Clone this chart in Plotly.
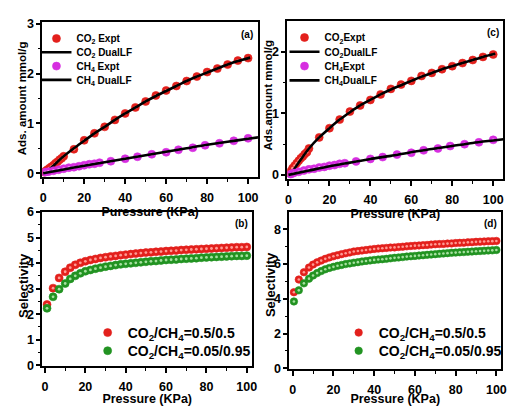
import plotly.graph_objects as go

W, H = 510, 406

# ---------------- data ----------------
# Panel (a)
p_a_co2 = [0.5, 1, 2, 3, 4, 5, 6, 7, 8, 9, 10, 15, 20, 25, 30, 35, 40, 45, 50, 55, 60, 65, 70, 75, 80, 85, 90, 95, 100]
a_co2 = [0.02, 0.04, 0.07, 0.10, 0.13, 0.16, 0.20, 0.23, 0.27, 0.30, 0.34, 0.48, 0.66, 0.80, 0.93, 1.07, 1.20, 1.32, 1.44, 1.56, 1.66, 1.75, 1.85, 1.94, 2.03, 2.10, 2.18, 2.26, 2.31]
p_a_co2_fit = [0, 2.5, 5, 7.5, 10, 15, 20, 25, 30, 35, 40, 45, 50, 55, 60, 65, 70, 75, 80, 85, 90, 95, 101]
a_co2_fit = [0.0, 0.06, 0.15, 0.25, 0.34, 0.50, 0.65, 0.80, 0.93, 1.07, 1.20, 1.32, 1.44, 1.55, 1.65, 1.75, 1.85, 1.94, 2.02, 2.10, 2.18, 2.25, 2.32]
p_a_ch4 = [1, 2.5, 5, 7.5, 10, 12.5, 15, 17.5, 20, 22.5, 25, 27.5, 33, 40, 46, 53, 60, 66, 73, 79, 86, 93, 100]
a_ch4 = [0.02, 0.03, 0.05, 0.07, 0.09, 0.11, 0.12, 0.14, 0.16, 0.18, 0.19, 0.21, 0.24, 0.29, 0.33, 0.38, 0.42, 0.47, 0.51, 0.56, 0.60, 0.65, 0.70]
p_a_ch4_fit = [0, 10, 20, 30, 40, 50, 60, 70, 80, 90, 100, 105]
a_ch4_fit = [0.0, 0.075, 0.15, 0.22, 0.29, 0.36, 0.43, 0.50, 0.57, 0.63, 0.69, 0.72]

# Panel (c)
p_c_co2 = [0.5, 1, 2, 3, 4, 5, 6, 7, 8, 9, 10, 15, 20, 25, 30, 35, 40, 45, 50, 55, 60, 65, 70, 75, 80, 85, 90, 95, 100]
c_co2 = [0.03, 0.06, 0.11, 0.15, 0.19, 0.23, 0.27, 0.30, 0.34, 0.37, 0.43, 0.61, 0.76, 0.90, 1.03, 1.13, 1.22, 1.31, 1.40, 1.47, 1.53, 1.61, 1.66, 1.72, 1.77, 1.82, 1.87, 1.92, 1.96]
p_c_co2_fit = [1, 2.5, 5, 7.5, 10, 15, 20, 25, 30, 35, 40, 45, 50, 55, 60, 65, 70, 75, 80, 85, 90, 95, 101]
c_co2_fit = [0.0, 0.08, 0.20, 0.32, 0.43, 0.61, 0.76, 0.90, 1.02, 1.13, 1.22, 1.31, 1.39, 1.46, 1.53, 1.60, 1.66, 1.72, 1.77, 1.82, 1.87, 1.92, 1.97]
p_c_ch4 = [1, 2.5, 5, 7.5, 10, 12.5, 15, 17.5, 20, 22.5, 25, 27.5, 33, 40, 46, 53, 60, 66, 73, 79, 86, 93, 100]
c_ch4 = [0.01, 0.03, 0.05, 0.07, 0.09, 0.10, 0.12, 0.13, 0.15, 0.16, 0.18, 0.19, 0.22, 0.26, 0.29, 0.33, 0.36, 0.40, 0.43, 0.47, 0.50, 0.53, 0.57]
p_c_ch4_fit = [0, 10, 20, 30, 40, 50, 60, 70, 80, 90, 100, 105]
c_ch4_fit = [0.0, 0.07, 0.14, 0.20, 0.26, 0.31, 0.37, 0.42, 0.47, 0.52, 0.56, 0.58]

# Panel (b)
p_b = [1, 4, 7, 10, 12.5, 15, 17.5, 20, 22.5, 25, 27.5, 30, 32.5, 35, 37.5, 40, 42.5, 45, 47.5, 50,
       52.5, 55, 57.5, 60, 62.5, 65, 67.5, 70, 72.5, 75, 77.5, 80, 82.5, 85, 87.5, 90, 92.5, 95, 97.5, 100]
b_red = [2.38, 3.02, 3.42, 3.66, 3.82, 3.93, 4.01, 4.07, 4.12, 4.16, 4.20, 4.23, 4.26, 4.28, 4.31, 4.33, 4.35, 4.37, 4.39, 4.41,
         4.42, 4.44, 4.45, 4.47, 4.48, 4.49, 4.51, 4.52, 4.53, 4.54, 4.55, 4.56, 4.57, 4.58, 4.59, 4.60, 4.61, 4.62, 4.62, 4.63]
b_green = [2.23, 2.68, 2.98, 3.20, 3.38, 3.50, 3.60, 3.68, 3.73, 3.78, 3.82, 3.86, 3.89, 3.92, 3.95, 3.97, 3.99, 4.01, 4.03, 4.05,
           4.07, 4.08, 4.10, 4.12, 4.13, 4.14, 4.16, 4.17, 4.18, 4.19, 4.21, 4.22, 4.23, 4.24, 4.25, 4.26, 4.27, 4.28, 4.28, 4.29]

# Panel (d)
p_d = [0.6, 3, 5.5, 8, 10, 12, 14, 16, 18, 20, 22, 24, 26, 28, 30, 32, 34, 36, 38, 40, 42, 44, 46, 48, 50,
       52, 54, 56, 58, 60, 62, 64, 66, 68, 70, 72, 74, 76, 78, 80, 82, 84, 86, 88, 90, 92, 94, 96, 98, 100]
d_red = [4.38, 5.11, 5.53, 5.80, 5.97, 6.10, 6.20, 6.30, 6.38, 6.45, 6.51, 6.57, 6.62, 6.67, 6.72, 6.75, 6.78, 6.81, 6.84, 6.87,
         6.89, 6.91, 6.93, 6.95, 6.96, 6.98, 7.00, 7.02, 7.04, 7.06, 7.07, 7.09, 7.10, 7.12, 7.14, 7.15, 7.16, 7.18, 7.19, 7.21,
         7.22, 7.23, 7.25, 7.26, 7.28, 7.29, 7.30, 7.31, 7.32, 7.33]
d_green = [3.85, 4.49, 4.89, 5.16, 5.34, 5.48, 5.60, 5.70, 5.78, 5.84, 5.90, 5.95, 6.00, 6.04, 6.08, 6.11, 6.15, 6.18, 6.21, 6.24,
           6.26, 6.28, 6.30, 6.33, 6.36, 6.38, 6.40, 6.43, 6.45, 6.47, 6.49, 6.51, 6.53, 6.55, 6.57, 6.59, 6.61, 6.63, 6.65, 6.66,
           6.68, 6.69, 6.71, 6.72, 6.74, 6.75, 6.77, 6.78, 6.79, 6.81]

x_ticks = [0, 20, 40, 60, 80, 100]
x_minor = [10, 30, 50, 70, 90]

RED, RED_HI = "#e3201c", "#ff9a94"
MAG, MAG_HI = "#d62ee0", "#f7a8fb"
GRN, GRN_HI = "#229322", "#a6e0a0"

FONT = dict(family="Liberation Sans, Arial, sans-serif", color="black", weight="bold")


def px_x(v):
    return v / W


def px_y(v):
    return 1 - v / H


fig = go.Figure()
legends = {}
leg_count = [0]


def new_legend(x_px, y_px, size):
    leg_count[0] += 1
    key = "legend" if leg_count[0] == 1 else "legend%d" % leg_count[0]
    legends[key] = dict(x=px_x(x_px), y=px_y(y_px), xanchor="left", yanchor="middle",
                        bgcolor="rgba(0,0,0,0)", font=dict(size=size, **FONT), itemwidth=30,
                        tracegroupgap=0)
    return key


def sphere(x, y, color, hi, size, name, xa, ya, leg):
    fig.add_trace(go.Scatter(x=x, y=y, mode="markers", name=name, xaxis=xa, yaxis=ya, legend=leg,
                             marker=dict(color=color, size=size, line=dict(color=color, width=0.6))))
    fig.add_trace(go.Scatter(x=x, y=y, mode="markers", xaxis=xa, yaxis=ya, showlegend=False, hoverinfo="skip",
                             marker=dict(color=hi, size=size * 0.35, line=dict(width=0))))


def line(x, y, name, xa, ya, leg):
    fig.add_trace(go.Scatter(x=x, y=y, mode="lines", name=name, xaxis=xa, yaxis=ya, legend=leg,
                             line=dict(color="black", width=2.6, shape="spline", smoothing=0.8)))


# (a)
sphere(p_a_co2, a_co2, RED, RED_HI, 8, "CO<sub>2</sub> Expt", "x", "y", new_legend(34, 33, 10))
line(p_a_co2_fit, a_co2_fit, "CO<sub>2</sub> DualLF", "x", "y", new_legend(34, 47.5, 10))
sphere(p_a_ch4, a_ch4, MAG, MAG_HI, 8, "CH<sub>4</sub> Expt", "x", "y", new_legend(34, 62, 10))
line(p_a_ch4_fit, a_ch4_fit, "CH<sub>4</sub> DualLF", "x", "y", new_legend(34, 76.5, 10))

# (c)
sphere(p_c_co2, c_co2, RED, RED_HI, 8, "CO<sub>2</sub>Expt", "x2", "y2", new_legend(286, 32, 10))
line(p_c_co2_fit, c_co2_fit, "CO<sub>2</sub>DualLF", "x2", "y2", new_legend(286, 47, 10))
sphere(p_c_ch4, c_ch4, MAG, MAG_HI, 8, "CH<sub>4</sub>Expt", "x2", "y2", new_legend(286, 62, 10))
line(p_c_ch4_fit, c_ch4_fit, "CH<sub>4</sub>DualLF", "x2", "y2", new_legend(286, 77, 10))

# (b)
sphere(p_b, b_red, RED, RED_HI, 8, "CO<sub>2</sub>/CH<sub>4</sub>=0.5/0.5", "x3", "y3", new_legend(86, 342, 14))
sphere(p_b, b_green, GRN, GRN_HI, 8, "CO<sub>2</sub>/CH<sub>4</sub>=0.05/0.95", "x3", "y3", new_legend(86, 361, 14))

# (d)
sphere(p_d, d_red, RED, RED_HI, 7.5, "CO<sub>2</sub>/CH<sub>4</sub>=0.5/0.5", "x4", "y4", new_legend(341, 342, 14))
sphere(p_d, d_green, GRN, GRN_HI, 7.5, "CO<sub>2</sub>/CH<sub>4</sub>=0.05/0.95", "x4", "y4", new_legend(341, 361, 14))


def xaxis(domain, rng, anchor, title):
    return dict(domain=domain, range=rng, anchor=anchor, showline=True, linecolor="black", linewidth=2,
                mirror=True, showgrid=False, zeroline=False, ticks="outside", ticklen=5, tickwidth=1.5,
                tickcolor="black", tickvals=x_ticks, ticklabelstandoff=3,
                minor=dict(tickvals=x_minor, ticks="outside", ticklen=3, tickwidth=1.2, tickcolor="black"),
                tickfont=dict(size=12.5, **FONT),
                title=dict(text=title, font=dict(size=12.5, **FONT), standoff=0))


def yaxis(domain, rng, anchor, tv, mv):
    return dict(domain=domain, range=rng, anchor=anchor, showline=True, linecolor="black", linewidth=2,
                mirror=True, showgrid=False, zeroline=False, ticks="outside", ticklen=4, tickwidth=1.5,
                tickcolor="black", tickvals=tv,
                minor=dict(tickvals=mv, ticks="outside", ticklen=2.5, tickwidth=1.2, tickcolor="black"),
                tickfont=dict(size=12.5, **FONT))


def text(t, x, y, size=12.5, angle=0, xanchor="center", yanchor="middle"):
    return dict(text=t, x=px_x(x), y=px_y(y), xref="paper", yref="paper", xanchor=xanchor, yanchor=yanchor,
                showarrow=False, textangle=angle, font=dict(size=size, **FONT))


fig.update_layout(
    width=W, height=H, margin=dict(l=0, r=0, t=0, b=0),
    paper_bgcolor="white", plot_bgcolor="white", font=dict(size=12, **FONT),
    xaxis=xaxis([px_x(40), px_x(259)], [-0.4, 104.8], "y", "Puressure (KPa)"),
    yaxis=yaxis([px_y(178), px_y(16)], [-0.07, 3.03], "x", [0, 1, 2, 3], [0.5, 1.5, 2.5]),
    xaxis2=xaxis([px_x(289), px_x(508)], [-0.5, 104.8], "y2", "Pressure (KPa)"),
    yaxis2=yaxis([px_y(180), px_y(15)], [-0.06, 2.5], "x2", [0, 1, 2], [0.5, 1.5]),
    xaxis3=xaxis([px_x(40), px_x(253)], [-1.3, 102.6], "y3", "Pressure (KPa)"),
    yaxis3=yaxis([px_y(377), px_y(215)], [-0.04, 6.0], "x3", [0, 1, 2, 3, 4, 5, 6], [0.5, 1.5, 2.5, 3.5, 4.5, 5.5]),
    xaxis4=xaxis([px_x(291), px_x(506)], [-1.6, 102.3], "y4", "Pressure (KPa)"),
    yaxis4=yaxis([px_y(380), px_y(215)], [-0.05, 9.0], "x4", [0, 2, 4, 6, 8], [1, 3, 5, 7]),
    annotations=[
        text("(a)", 256, 21, 10, xanchor="right", yanchor="top"),
        text("(c)", 506, 19, 10, xanchor="right", yanchor="top"),
        text("(b)", 251, 219, 10, xanchor="right", yanchor="top"),
        text("(d)", 504, 219, 10, xanchor="right", yanchor="top"),
        text("Ads. amount mmol/g", 19, 96, 11.5, -90),
        text("Ads.amount mmol/g", 269, 92, 11.5, -90),
        text("Selectivity", 21, 292, 13, -90),
        text("Selectivity", 272, 291, 13, -90),
    ],
)
fig.update_layout(**legends)

fig.write_html("out.html", config={"displayModeBar": False},
               post_script="document.body.style.margin='0';document.body.style.padding='0';document.body.style.overflow='hidden';")
